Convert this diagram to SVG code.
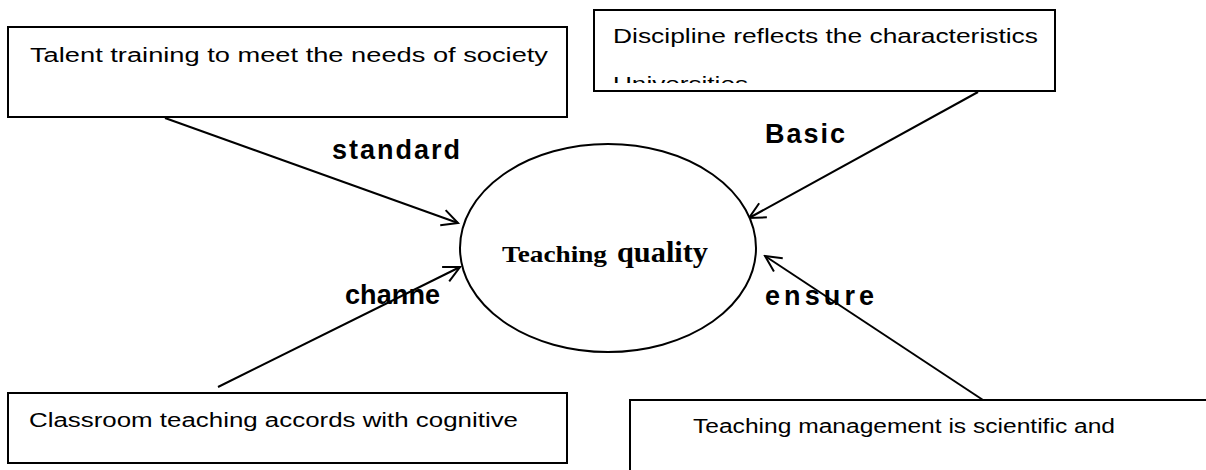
<svg xmlns="http://www.w3.org/2000/svg" width="1206" height="470" viewBox="0 0 1206 470">
<style>
.box{fill:#fff;stroke:#000;stroke-width:2}
.bt{font-family:"Liberation Sans","Noto Sans CJK SC",sans-serif;font-size:20px;fill:#000}
.lab{font-family:"Liberation Sans","Noto Sans CJK SC",sans-serif;font-size:27px;font-weight:bold;fill:#000}
.ln{stroke:#000;stroke-width:2;fill:none;marker-end:url(#ah)}
.ctr{font-family:"Liberation Serif","Times New Roman",serif;font-weight:bold;fill:#000}
</style>
<defs>
<marker id="ah" viewBox="0 0 20 20" refX="18" refY="10" markerWidth="20" markerHeight="20" markerUnits="userSpaceOnUse" orient="auto">
<path d="M2,2 L18,10 L2,18" fill="none" stroke="#000" stroke-width="2"/>
</marker>
<clipPath id="c2"><rect x="594" y="10" width="461" height="73"/></clipPath>
</defs>
<rect width="1206" height="470" fill="#fff"/>
<g id="connectors">
<line class="ln" x1="165" y1="118" x2="458" y2="223"/>
<line class="ln" x1="978" y1="92" x2="749" y2="218"/>
<line class="ln" x1="218" y1="387" x2="460" y2="267"/>
<line class="ln" x1="983" y1="400" x2="765" y2="256"/>
</g>
<g id="node-talent">
<rect class="box" x="8" y="27" width="559" height="90"/>
<text class="bt" x="30" y="62" textLength="518" lengthAdjust="spacingAndGlyphs">Talent training to meet the needs of society</text>
</g>
<g id="node-discipline">
<rect class="box" x="594" y="10" width="461" height="81"/>
<text class="bt" x="613" y="43" textLength="425" lengthAdjust="spacingAndGlyphs">Discipline reflects the characteristics</text>
<text class="bt" x="613" y="91" textLength="135" lengthAdjust="spacingAndGlyphs" clip-path="url(#c2)">Universities</text>
</g>
<g id="node-classroom">
<rect class="box" x="8" y="393" width="559" height="70"/>
<text class="bt" x="29" y="427" textLength="489" lengthAdjust="spacingAndGlyphs">Classroom teaching accords with cognitive</text>
</g>
<g id="node-management">
<rect class="box" x="630" y="400" width="590" height="90"/>
<text class="bt" x="693" y="433" textLength="422" lengthAdjust="spacingAndGlyphs">Teaching management is scientific and</text>
</g>
<g id="node-quality">
<ellipse cx="608" cy="248" rx="148" ry="104" fill="#fff" stroke="#000" stroke-width="2"/>
<text class="ctr" x="502" y="262" font-size="24" textLength="105" lengthAdjust="spacingAndGlyphs">Teaching</text>
<text class="ctr" x="617" y="262" font-size="29" textLength="91" lengthAdjust="spacingAndGlyphs">quality</text>
</g>
<g id="labels">
<text class="lab" x="332" y="159" textLength="128" lengthAdjust="spacing">standard</text>
<text class="lab" x="765" y="143" textLength="80" lengthAdjust="spacing">Basic</text>
<text class="lab" x="345" y="304" textLength="95" lengthAdjust="spacing">channe</text>
<text class="lab" x="765" y="305" textLength="109" lengthAdjust="spacing">ensure</text>
</g>
</svg>
